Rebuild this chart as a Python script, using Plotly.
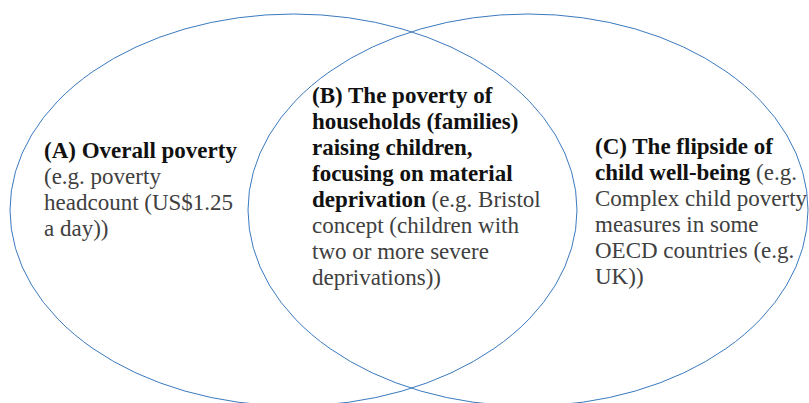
import plotly.graph_objects as go

# Ellipse geometry (pixel-space data coordinates, y downwards)
ellipse_names = ["Left circle", "Right circle"]
ellipse_x0 = [10, 248]
ellipse_x1 = [577, 808]
ellipse_y0 = [14, 14]
ellipse_y1 = [406, 406]

# Text blocks: one list of lines per block (<b> marks the bold part)
block_a_lines = [
    "<b>(A) Overall poverty</b>",
    "(e.g. poverty",
    "headcount (US$1.25",
    "a day))",
]
block_b_lines = [
    "<b>(B) The poverty of</b>",
    "<b>households (families)</b>",
    "<b>raising children,</b>",
    "<b>focusing on material</b>",
    "<b>deprivation</b> (e.g. Bristol",
    "concept (children with",
    "two or more severe",
    "deprivations))",
]
block_c_lines = [
    "<b>(C) The flipside of</b>",
    "<b>child well-being</b> (e.g.",
    "Complex child poverty",
    "measures in some",
    "OECD countries (e.g.",
    "UK))",
]
blocks = [block_a_lines, block_b_lines, block_c_lines]
block_x = [43, 311, 594]
block_first_y = [150, 95, 146]
LINE_STEP = 26.1

LINE_COLOR = "#3a7abf"
BOLD_COLOR = "#111111"
PLAIN_COLOR = "#404040"
FONT = "Liberation Serif"

fig = go.Figure()

for i in range(len(ellipse_names)):
    fig.add_shape(
        type="circle", xref="x", yref="y",
        x0=ellipse_x0[i], x1=ellipse_x1[i], y0=ellipse_y0[i], y1=ellipse_y1[i],
        line=dict(color=LINE_COLOR, width=1),
        fillcolor="rgba(0,0,0,0)",
    )

for b, lines in enumerate(blocks):
    for j, line in enumerate(lines):
        txt = line.replace("<b>", "<b><span style='color:%s'>" % BOLD_COLOR).replace(
            "</b>", "</span></b>")
        fig.add_annotation(
            x=block_x[b], y=block_first_y[b] + j * LINE_STEP, xref="x", yref="y",
            text=txt, showarrow=False, xanchor="left", yanchor="middle", align="left",
            font=dict(family=FONT, size=23, color=PLAIN_COLOR),
            borderpad=0,
        )

fig.update_xaxes(range=[0, 809], visible=False, fixedrange=True)
fig.update_yaxes(range=[403, 0], visible=False, fixedrange=True)
fig.update_layout(
    width=809, height=403,
    margin=dict(l=0, r=0, t=0, b=0),
    paper_bgcolor="white", plot_bgcolor="white",
    showlegend=False,
)

fig.write_html("out.html", config={"displayModeBar": False},
               post_script="document.body.style.margin='0';document.body.style.overflow='hidden';")
